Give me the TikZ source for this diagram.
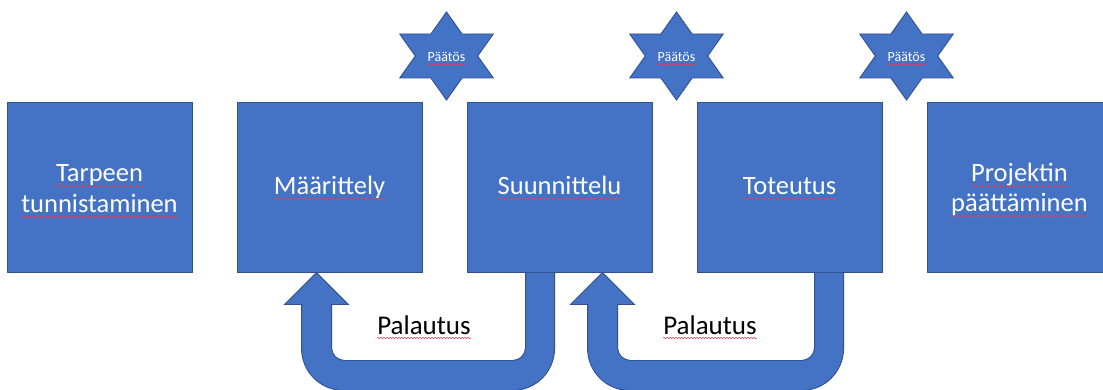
\documentclass[tikz,border=0pt]{standalone}
\usepackage{fontspec}
\setmainfont{Carlito}
\usetikzlibrary{calc,decorations.pathmorphing}
\pgfdeclarelayer{bottomlayer}
\pgfdeclarelayer{background}
\pgfsetlayers{bottomlayer,background,main}
\definecolor{ofblue}{HTML}{4472C4}
\definecolor{ofedge}{HTML}{2F528F}
\definecolor{squigred}{HTML}{E0405A}

% U-turn return arrow: #1 source box, #2 x-offset of right shaft, #3 target box, #4 x-offset of left shaft
\newcommand\uturnarrow[4]{%
  \coordinate (ra) at ($(#1.south west)+(#2,0)$);
  \coordinate (la) at ($(#3.south west)+(#4,0)$);
  \begin{pgfonlayer}{background}
  \draw[uturn] ([shift={(29,0)}]ra) -- ([shift={(29,76)}]ra)
    .. controls ([shift={(29,99.2)}]ra) and ([shift={(10.2,118)}]ra) .. ([shift={(-13,118)}]ra)
    -- ([shift={(42,118)}]la)
    .. controls ([shift={(18.8,118)}]la) and ([shift={(0,99.2)}]la) .. ([shift={(0,76)}]la)
    -- ([shift={(0,32)}]la) -- ([shift={(-17,32)}]la) -- ([shift={(15,0)}]la)
    -- ([shift={(47,32)}]la) -- ([shift={(30,32)}]la) -- ([shift={(30,75)}]la)
    .. controls ([shift={(30,82.2)}]la) and ([shift={(35.8,88)}]la) .. ([shift={(43,88)}]la)
    -- ([shift={(-13,88)}]ra)
    .. controls ([shift={(-5.8,88)}]ra) and ([shift={(0,82.2)}]ra) .. ([shift={(0,75)}]ra)
    -- (ra) -- cycle;
  \end{pgfonlayer}}

% six-pointed decision star: #1 name, #2 centre x, #3 centre y
\newcommand\hexstar[3]{%
  \draw[starshape] plot[samples at={0,30,...,330},variable=\a]
    ({#2+(mod(\a,60)==0 ? 54 : 31.2)*cos(\a+90)},{#3-(mod(\a,60)==0 ? 44 : 25.4)*sin(\a+90)}) -- cycle;
  \node[stext] (#1) at (#2,#3+6) {Päätös};
  \draw[squiggle,decoration={snake,segment length=2.4pt,amplitude=0.5pt}]
    ([yshift=-2.5pt]#1.base west) -- ([yshift=-2.5pt]#1.base east);}

\begin{document}
\begin{tikzpicture}[x=1pt,y=-1pt,
  stepbox/.style={draw=ofedge,fill=ofblue,line width=0.9pt,minimum width=185pt,minimum height=170pt,inner sep=0pt},
  wtext/.style={text=white,font=\fontsize{26.5}{32}\selectfont,anchor=base,inner sep=0pt},
  btext/.style={text=black,font=\fontsize{27}{32}\selectfont,anchor=base,inner sep=0pt},
  stext/.style={text=white,font=\fontsize{14}{16}\selectfont,anchor=base,inner sep=0pt},
  uturn/.style={draw=ofedge,fill=ofblue,line width=0.9pt},
  starshape/.style={draw=ofedge,fill=ofblue,line width=0.9pt,line join=miter},
  squiggle/.style={draw=squigred,line width=0.6pt,decorate,decoration={snake,segment length=3pt,amplitude=0.7pt}}
]
\useasboundingbox (0,0) rectangle (1103,390);
\begin{pgfonlayer}{bottomlayer}
\fill[white] (0,0) rectangle (1103,390);
\end{pgfonlayer}
\clip (0,0) rectangle (1103,390);

% phase boxes
\node[stepbox] (b1) at (99.5,187) {};
\node[stepbox] (b2) at (329.5,187) {};
\node[stepbox] (b3) at (559.5,187) {};
\node[stepbox] (b4) at (789.5,187) {};
\node[stepbox] (b5) at (1019.5,187) {};

% box texts
\node[wtext] (t1a) at ($(b1)+(0,-5)$) {Tarpeen};
\node[wtext] (t1b) at ($(b1)+(0,26)$) {tunnistaminen};
\node[wtext] (t2) at ($(b2)+(0,8)$) {Määrittely};
\node[wtext] (t3) at ($(b3)+(0,8)$) {Suunnittelu};
\node[wtext] (t4) at ($(b4)+(0,8)$) {Toteutus};
\node[wtext] (t5a) at ($(b5)+(0,-5)$) {Projektin};
\node[wtext] (t5b) at ($(b5)+(0,25)$) {päättäminen};
\foreach \n in {t1a,t1b,t2,t3,t4,t5a,t5b}
  \draw[squiggle] ([yshift=-4pt]\n.base west) -- ([yshift=-4pt]\n.base east);

% decision stars
\hexstar{s1}{446.5}{56}
\hexstar{s2}{676.5}{56}
\hexstar{s3}{906.5}{56}

% return arrows
\uturnarrow{b3}{59}{b2}{65}
\uturnarrow{b4}{118}{b3}{121}

\node[btext] (p1) at (424,334) {Palautus};
\node[btext] (p2) at (710,334) {Palautus};
\foreach \n in {p1,p2}
  \draw[squiggle] ([yshift=-4pt]\n.base west) -- ([yshift=-4pt]\n.base east);
\end{tikzpicture}
\end{document}
